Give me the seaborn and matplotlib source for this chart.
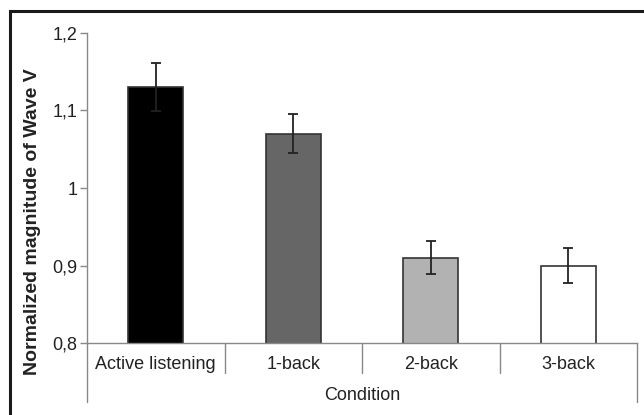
import matplotlib
matplotlib.use("Agg")
import matplotlib.pyplot as plt
from matplotlib.lines import Line2D
from matplotlib.patches import Rectangle
import seaborn as sns
import pandas as pd

# === Data ===
conditions = ["Active listening", "1-back", "2-back", "3-back"]
magnitude = [1.13, 1.07, 0.91, 0.90]
sem = [0.031, 0.025, 0.021, 0.023]
bar_colors = ["#000000", "#666666", "#b2b2b2", "#ffffff"]
ytick_values = [0.8, 0.9, 1.0, 1.1, 1.2]
ytick_labels = ["0,8", "0,9", "1", "1,1", "1,2"]

df = pd.DataFrame({"Condition": conditions, "Magnitude": magnitude})

# === Style ===
sns.set_style("white")
plt.rcParams["font.family"] = ["Liberation Sans", "DejaVu Sans"]

fig = plt.figure(figsize=(6.44, 4.15), dpi=100)
ax = fig.add_axes([87 / 644, 1 - 343 / 415, 550 / 644, 310 / 415])

sns.barplot(data=df, x="Condition", y="Magnitude", hue="Condition",
            palette=bar_colors, errorbar=None, width=0.4, legend=False,
            edgecolor="#333333", linewidth=1.2, ax=ax)
ax.errorbar(x=list(range(len(conditions))), y=magnitude, yerr=sem, fmt="none",
            ecolor="#222222", elinewidth=1.3, capsize=3.5, capthick=1.3)

# === Axes ===
ax.set_ylim(0.8, 1.2)
ax.set_xlim(-0.5, len(conditions) - 0.5)
ax.set_yticks(ytick_values)
ax.set_yticklabels(ytick_labels, fontsize=13, color="#222222")
ax.tick_params(axis="y", left=True, length=5, width=1, color="#888888", pad=2)
ax.tick_params(axis="x", bottom=False, labelsize=13, labelcolor="#222222", pad=6)
ax.set_xlabel("Condition", fontsize=13, color="#222222", labelpad=10)
ax.set_ylabel("Normalized magnitude of Wave V", fontsize=14, fontweight="bold",
              color="#222222")
ax.yaxis.set_label_coords(-0.083, 0.39)

for side in ["top", "right"]:
    ax.spines[side].set_visible(False)
for side in ["left", "bottom"]:
    ax.spines[side].set_color("#888888")
    ax.spines[side].set_linewidth(1)

# category box lines below the axis
for xpos, depth in [(0, 0.19), (0.25, 0.097), (0.5, 0.097), (0.75, 0.097), (1.0, 0.19)]:
    ax.add_line(Line2D([xpos, xpos], [0, -depth], transform=ax.transAxes,
                       color="#888888", lw=1, clip_on=False))

# outer frame
fig.patches.append(Rectangle((10 / 644, -0.05), 1.0, 1 - 11 / 415 + 0.05,
                             transform=fig.transFigure, fill=False,
                             edgecolor="#1a1a1a", linewidth=2.2))

fig.savefig("out.png", dpi=100)
